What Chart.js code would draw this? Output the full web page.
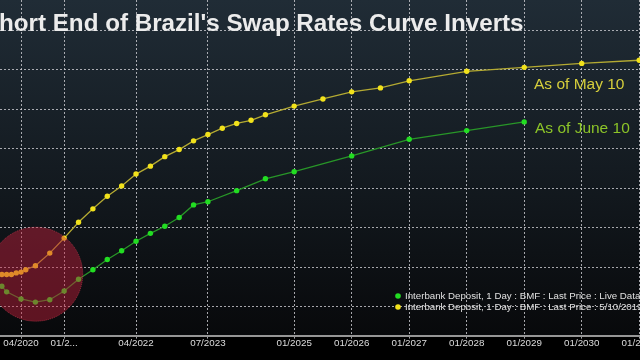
<!DOCTYPE html>
<html>
<head>
<meta charset="utf-8">
<script src="https://cdn.jsdelivr.net/npm/chart.js@4/dist/chart.umd.min.js"></script>
<style>
html,body{margin:0;padding:0;background:#000;overflow:hidden;width:640px;height:360px}
#wrap{position:absolute;left:-40px;top:0;width:720px;height:360px}
</style>
</head>
<body>
<div id="wrap"><canvas id="myChart" width="720" height="360"></canvas></div>
<script>
// vencimientos de los contratos DI1 (años decimales) y tasas
const vencMayo  = [2019.917,2020.0,2020.083,2020.167,2020.25,2020.333,2020.5,2020.75,2021.0,2021.25,2021.5,2021.75,2022.0,2022.25,2022.5,2022.75,2023.0,2023.25,2023.5,2023.75,2024.0,2024.25,2024.5,2025.0,2025.5,2026.0,2026.5,2027.0,2028.0,2029.0,2030.0,2031.0]
const tasaMayo  = [6.41,6.41,6.41,6.43,6.44,6.47,6.52,6.68,6.87,7.07,7.24,7.40,7.53,7.68,7.78,7.90,7.99,8.10,8.18,8.26,8.32,8.36,8.43,8.54,8.63,8.72,8.77,8.86,8.98,9.03,9.08,9.12]
const vencJunio = [2019.917,2020.0,2020.25,2020.5,2020.75,2021.0,2021.25,2021.5,2021.75,2022.0,2022.25,2022.5,2022.75,2023.0,2023.25,2023.5,2024.0,2024.5,2025.0,2026.0,2027.0,2028.0,2029.0]
const tasaJunio = [6.26,6.19,6.10,6.06,6.09,6.20,6.35,6.47,6.60,6.71,6.83,6.93,7.02,7.13,7.29,7.33,7.47,7.62,7.71,7.91,8.12,8.23,8.34]

// ticks del eje x
const posTicks   = [2020.25,2021.0,2022.25,2023.5,2025,2026,2027,2028,2029,2030,2031]
const etiquetas  = ['04/2020','01/2...','04/2022','07/2023','01/2025','01/2026','01/2027','01/2028','01/2029','01/2030','01/2031']
const gridTasas  = [6.0,6.5,7.0,7.5,8.0,8.5,9.0,9.5]

const titulo     = "Short End of Brazil's Swap Rates Curve Inverts"
const notaMayo   = 'As of May 10'
const notaJunio  = 'As of June 10'
const leyendaJunio = 'Interbank Deposit, 1 Day : BMF : Last Price : Live Data'
const leyendaMayo  = 'Interbank Deposit, 1 Day : BMF : Last Price : 5/10/2019'
const circulo    = {x:2020.506, y:6.413}

const ctx=document.getElementById('myChart');

const fondo={
    id:'fondo',
    beforeDraw(chart){
        const {ctx,chartArea:a}=chart
        ctx.save()
        ctx.fillStyle='#000'
        ctx.fillRect(0,0,chart.width,chart.height)
        const g=ctx.createLinearGradient(0,a.top,0,a.bottom)
        g.addColorStop(0,'rgb(32,44,54)')
        g.addColorStop(0.5,'rgb(20,27,33)')
        g.addColorStop(1,'rgb(8,9,11)')
        ctx.fillStyle=g
        ctx.fillRect(a.left,a.top,a.right-a.left,a.bottom-a.top)
        ctx.restore()
    }
}

const marca={
    id:'marca',
    afterDatasetsDraw(chart){
        const {ctx,scales:{x,y}}=chart
        const cx=x.getPixelForValue(circulo.x), cy=y.getPixelForValue(circulo.y)
        ctx.save()
        ctx.beginPath()
        ctx.arc(cx,cy,47,0,Math.PI*2)
        ctx.fillStyle='rgba(200,30,60,0.45)'
        ctx.fill()
        ctx.setLineDash([1,1])
        ctx.strokeStyle='rgba(230,70,90,0.5)'
        ctx.lineWidth=1
        ctx.stroke()
        ctx.restore()
    }
}

const textos={
    id:'textos',
    afterDraw(chart){
        const {ctx}=chart
        ctx.save()
        //titulo
        ctx.font='bold 24.2px "Liberation Sans", Arial, sans-serif'
        ctx.fillStyle='#ececec'
        ctx.textBaseline='alphabetic'
        const sw=ctx.measureText('S').width
        ctx.fillText(titulo,40-sw-1,31)
        //notas
        ctx.font='15.5px "Liberation Sans", Arial, sans-serif'
        ctx.fillStyle='rgb(214,206,60)'
        ctx.fillText(notaMayo,574,89)
        ctx.fillStyle='rgb(140,196,40)'
        ctx.fillText(notaJunio,575,133)
        //leyenda
        ctx.font='9.7px "Liberation Sans", Arial, sans-serif'
        ctx.textBaseline='middle'
        const filas=[[leyendaJunio,'#22dd22',296],[leyendaMayo,'#f2e21b',307]]
        for (const [txt,col,yy] of filas) {
            ctx.beginPath()
            ctx.arc(438,yy,2.8,0,Math.PI*2)
            ctx.fillStyle=col
            ctx.fill()
            ctx.fillStyle='#e0e0e0'
            ctx.fillText(txt,445,yy+0.5)
        }
        ctx.restore()
    }
}

const myChart=new Chart(ctx,{
    type:'line',
    data:{
        datasets:[
            {label:leyendaMayo,data:vencMayo.map((v,i)=>({x:v,y:tasaMayo[i]})),borderColor:'rgb(180,170,50)',borderWidth:1.3,
             pointRadius:2.7,pointBackgroundColor:'#f2e21b',pointBorderColor:'#f2e21b',pointBorderWidth:0,tension:0},
            {label:leyendaJunio,data:vencJunio.map((v,i)=>({x:v,y:tasaJunio[i]})),borderColor:'rgb(40,150,40)',borderWidth:1.3,
             pointRadius:2.7,pointBackgroundColor:'#22dd22',pointBorderColor:'#22dd22',pointBorderWidth:0,tension:0}
        ]
    },
    options:{
        responsive:false,
        animation:false,
        layout:{autoPadding:false,padding:{left:0,right:0,top:0,bottom:11.6}},
        plugins:{legend:{display:false},tooltip:{enabled:false},title:{display:false}},
        scales:{
            x:{
                type:'linear',min:2019.189,max:2031.709,
                afterBuildTicks:(s)=>{s.ticks=posTicks.map(v=>({value:v}))},
                ticks:{autoSkip:false,maxRotation:0,padding:-1,color:'#dcdcdc',
                       font:{family:'"Liberation Sans", Arial, sans-serif',size:9.8},
                       callback:(v)=>etiquetas[posTicks.indexOf(v)]},
                grid:{color:'rgba(205,205,210,0.8)',lineWidth:1,tickLength:3,drawTicks:true},
                border:{display:true,color:'rgb(150,150,150)',width:2,dash:[2,2]}
            },
            y:{
                min:5.636,max:9.882,
                afterBuildTicks:(s)=>{s.ticks=gridTasas.map(v=>({value:v}))},
                ticks:{display:false},
                grid:{color:'rgba(205,205,210,0.8)',lineWidth:1,drawTicks:false},
                border:{display:false,dash:[2,2]}
            }
        }
    },
    plugins:[fondo,marca,textos]
})
</script>
</body>
</html>
